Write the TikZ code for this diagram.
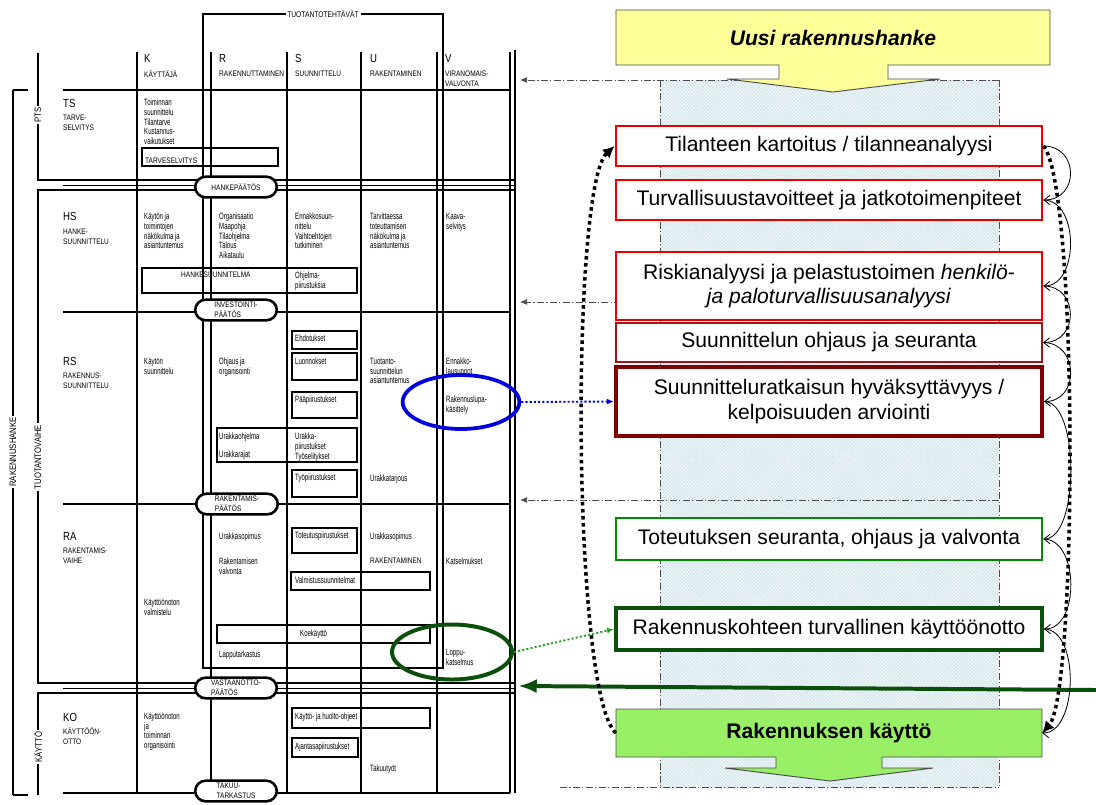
\documentclass[tikz,border=0pt]{standalone}
\usepackage{fontspec}
\setmainfont{Liberation Sans}
\newfontfamily\handfont[FakeStretch=0.66]{Liberation Sans}
\newfontfamily\capsfont[FakeStretch=0.82]{Liberation Sans}
\usetikzlibrary{arrows.meta,shapes.geometric,patterns}

\definecolor{ylw}{RGB}{255,255,153}
\definecolor{lgreen}{RGB}{153,240,102}
\definecolor{boxred}{RGB}{230,0,0}
\definecolor{brick}{RGB}{165,20,20}
\definecolor{maroon}{RGB}{128,0,0}
\definecolor{okgreen}{RGB}{0,140,0}
\definecolor{dkgreen}{RGB}{10,80,10}
\definecolor{dotgreen}{RGB}{40,160,40}
\definecolor{hatchbg}{RGB}{242,248,249}
\definecolor{hatchln}{RGB}{208,228,233}
\definecolor{lupablue}{RGB}{0,0,225}

\begin{document}
\begin{tikzpicture}[x=0.03cm, y=-0.03cm,
	txt/.style={font=\handfont\fontsize{7.8}{8.2}\selectfont, anchor=north west, inner sep=0pt, align=left},
	caps/.style={font=\capsfont\fontsize{6.8}{8.6}\selectfont, anchor=north west, inner sep=0pt, align=left},
	head/.style={font=\capsfont\fontsize{10}{10}\selectfont, anchor=north west, inner sep=0pt},
	rot/.style={font=\capsfont\fontsize{8}{9}\selectfont, rotate=90, fill=white, inner sep=1.5pt},
	grid/.style={line width=1pt},
	inbox/.style={line width=0.9pt},
	paatos/.style={draw, line width=2.2pt, fill=white, rounded corners=9pt, minimum width=2.45cm, minimum height=0.62cm, inner sep=1.5pt, align=left, font=\capsfont\fontsize{6.8}{8.6}\selectfont},
	rbox/.style={fill=white, line width=2.4pt, minimum width=12.78cm, inner sep=2pt, align=center, font=\fontsize{18}{21}\selectfont},
	guide/.style={gray!60!black, line width=0.6pt, dash pattern=on 6pt off 2pt on 1pt off 2pt},
	flow/.style={line width=0.7pt, -{Straight Barb[length=5pt,width=8pt]}},
	bigdots/.style={line width=3pt, dash pattern=on 3pt off 3pt, -{Latex[length=10pt,width=10pt]}}]

	\useasboundingbox (0,0) rectangle (1096,804);

	% --- left: process table
	\draw[line width=1.4pt] (203,14) rectangle (443,668);
	\node[font=\capsfont\fontsize{7}{8}\selectfont, fill=white, inner sep=1.5pt] (tuot) at (323,14) {TUOTANTOTEHTÄVÄT};

	\draw[grid] (13,90) -- (13,795);
	\draw[grid] (13,90) -- (28,90);
	\draw[grid] (13,795) -- (28,795);
	\draw[grid] (38,53) -- (38,180) -- (515,180);
	\draw[grid] (515,190) -- (38,190) -- (38,683) -- (515,683);
	\draw[grid] (515,693) -- (38,693) -- (38,795);
	\draw[line width=0.6pt] (63,185) -- (515,185);
	\draw[line width=0.6pt] (63,688) -- (515,688);
	\draw[grid] (63,90) -- (510,90);
	\draw[grid] (63,312) -- (510,312);
	\draw[grid] (63,504) -- (510,504);
	\draw[grid] (63,793) -- (510,793);
	\foreach \cx in {137,211,287,361,437,510}
		\draw[grid] (\cx,52) -- (\cx,793);
	\draw[grid] (515,50) -- (515,793);

	\node[rot] (hanke) at (13,452) {RAKENNUSHANKE};
	\node[rot] (tvaihe) at (38,457) {TUOTANTOVAIHE};
	\node[rot] (pts) at (38,115) {PTS};
	\node[rot] (kaytv) at (38,747) {KÄYTTÖ};

	% column heads
	\node[head] (hK) at (144,54) {K};
	\node[head] (hR) at (219,54) {R};
	\node[head] (hS) at (295,54) {S};
	\node[head] (hU) at (370,54) {U};
	\node[head] (hV) at (445,54) {V};
	\node[caps] (sK) at (144,71) {KÄYTTÄJÄ};
	\node[caps] (sR) at (219,71) {RAKENNUTTAMINEN};
	\node[caps] (sS) at (295,71) {SUUNNITTELU};
	\node[caps] (sU) at (370,71) {RAKENTAMINEN};
	\node[caps] (sV) at (445,71) {VIRANOMAIS-\\VALVONTA};

	% phases
	\node[head] (pTS) at (63,99) {TS};
	\node[caps] (nTS) at (63,115) {TARVE-\\SELVITYS};
	\node[head] (pHS) at (63,212) {HS};
	\node[caps] (nHS) at (63,229) {HANKE-\\SUUNNITTELU};
	\node[head] (pRS) at (63,357) {RS};
	\node[caps] (nRS) at (63,373) {RAKENNUS-\\SUUNNITTELU};
	\node[head] (pRA) at (63,532) {RA};
	\node[caps] (nRA) at (63,548) {RAKENTAMIS-\\VAIHE};
	\node[head] (pKO) at (63,713) {KO};
	\node[caps] (nKO) at (63,728) {KÄYTTÖÖN-\\OTTO};

	% boxes inside the table
	\draw[inbox] (142,148) rectangle (278,166);
	\draw[inbox] (142,268) rectangle (357,293);
	\draw[inbox] (292,331) rectangle (357,349);
	\draw[inbox] (292,353) rectangle (357,380);
	\draw[inbox] (292,392) rectangle (357,418);
	\draw[inbox] (217,428) rectangle (357,462);
	\draw[inbox] (292,470) rectangle (357,497);
	\draw[inbox] (292,528) rectangle (357,553);
	\draw[inbox] (291,572) rectangle (430,590);
	\draw[inbox] (217,625) rectangle (430,643);
	\draw[inbox] (292,708) rectangle (430,728);
	\draw[inbox] (292,738) rectangle (358,757);

	% K
	\node[txt] (kTS) at (144,99) {Toiminnan\\suunnittelu\\Tilantarve\\Kustannus-\\vaikutukset};
	\node[caps] (kTsv) at (145,158) {TARVESELVITYS};
	\node[txt] (kHS) at (144,213) {Käytön ja\\toimintojen\\näkökulma ja\\asiantuntemus};
	\node[caps] (kHsu) at (181,272) {HANKESUUNNITELMA};
	\node[txt] (kRS) at (144,358) {Käytön\\suunnittelu};
	\node[txt] (kRA) at (144,599) {Käyttöönoton\\valmistelu};
	\node[txt] (kKO) at (144,713) {Käyttöönoton\\ja\\toiminnan\\organisointi};
	% R
	\node[txt] (rHS) at (219,213) {Organisaatio\\Maapohja\\Tilaohjelma\\Talous\\Aikataulu};
	\node[txt] (rRS) at (219,358) {Ohjaus ja\\organisointi};
	\node[txt] (rUo) at (219,433) {Urakkaohjelma};
	\node[txt] (rUr) at (219,451) {Urakkarajat};
	\node[txt] (rSop) at (219,533) {Urakkasopimus};
	\node[txt] (rVal) at (219,558) {Rakentamisen\\valvonta};
	\node[txt] (rLop) at (219,651) {Lapputarkastus};
	% S
	\node[txt] (sHS) at (295,213) {Ennakkosuun-\\nittelu\\Vaihtoehtojen\\tutkiminen};
	\node[txt] (sOhj) at (295,272) {Ohjelma-\\piirustuksia};
	\node[txt] (sEhd) at (295,335) {Ehdotukset};
	\node[txt] (sLuo) at (295,358) {Luonnokset};
	\node[txt] (sPaa) at (295,396) {Pääpiirustukset};
	\node[txt] (sUra) at (295,433) {Urakka-\\piirustukset\\Työselitykset};
	\node[txt] (sTyo) at (295,474) {Työpiirustukset};
	\node[txt] (sTot) at (295,532) {Toteutuspiirustukset};
	\node[txt] (sVal) at (295,577) {Valmistussuunnitelmat};
	\node[txt] (sKoe) at (300,630) {Koekäyttö};
	\node[txt] (sKh) at (295,713) {Käyttö- ja huolto-ohjeet};
	\node[txt] (sAj) at (295,743) {Ajantasapiirustukset};
	% U
	\node[txt] (uHS) at (370,213) {Tarvittaessa\\toteuttamisen\\näkökulma ja\\asiantuntemus};
	\node[txt] (uRS) at (370,358) {Tuotanto-\\suunnittelun\\asiantuntemus};
	\node[txt] (uTar) at (370,475) {Urakkatarjous};
	\node[txt] (uSop) at (370,533) {Urakkasopimus};
	\node[caps] (uRak) at (370,558) {RAKENTAMINEN};
	\node[txt] (uTak) at (370,765) {Takuutyöt};
	% V
	\node[txt] (vHS) at (446,213) {Kaava-\\selvitys};
	\node[txt] (vRS) at (446,358) {Ennakko-\\lausunnot};
	\node[txt] (vLupa) at (446,396) {Rakennuslupa-\\käsittely};
	\node[txt] (vKat) at (446,558) {Katselmukset};
	\node[txt] (vLop) at (446,649) {Loppu-\\katselmus};

	% decisions
	\node[paatos] (dHanke) at (236,187) {HANKEPÄÄTÖS};
	\node[paatos] (dInv) at (236,310) {INVESTOINTI-\\PÄÄTÖS};
	\node[paatos] (dRak) at (237,504) {RAKENTAMIS-\\PÄÄTÖS};
	\node[paatos] (dVas) at (236,688) {VASTAANOTTO-\\PÄÄTÖS};
	\node[paatos] (dTak) at (236,791) {TAKUU-\\TARKASTUS};

	\node[ellipse, draw=lupablue, line width=3.2pt, minimum width=3.5cm, minimum height=1.62cm] (lupa) at (461,402) {};
	\node[ellipse, draw=dkgreen, line width=3.4pt, minimum width=3.6cm, minimum height=1.65cm] (loppu) at (452,652) {};

	% --- right: safety process
	\fill[hatchbg] (660,80) rectangle (999,787);
	\fill[pattern=crosshatch, pattern color=hatchln] (660,80) rectangle (999,787);
	\coordinate (stTR) at (999,80);
	\coordinate (stInv) at (660,302);
	\coordinate (stRak) at (999,500);
	\coordinate (tbTop) at (520,80);
	\coordinate (tbInv) at (520,302);
	\coordinate (tbRak) at (520,500);
	\draw[guide] (660,80) -- (660,787);
	\draw[guide] (999,80) -- (999,787);
	\draw[guide] (560,787) -- (999,787);
	\draw[guide, -{Latex[length=6pt,width=5pt]}] (stTR) -- (tbTop);
	\draw[guide, -{Latex[length=6pt,width=5pt]}] (stInv) -- (tbInv);
	\draw[guide, -{Latex[length=6pt,width=5pt]}] (stRak) -- (tbRak);

	\draw[gray!60!black, line width=0.8pt, fill=ylw] (616,10) -- (1050,10) -- (1050,65) -- (888,65) -- (888,79) -- (940,79) -- (833,92) -- (727,79) -- (779,79) -- (779,65) -- (616,65) -- cycle;
	\node[font=\bfseries\itshape\fontsize{18}{21}\selectfont] (uusi) at (833,38) {Uusi rakennushanke};
	\draw[gray!60!black, line width=0.8pt, fill=lgreen] (616,709) -- (1042,709) -- (1042,757) -- (882,757) -- (882,768) -- (933,768) -- (830,781) -- (725,768) -- (776,768) -- (776,757) -- (616,757) -- cycle;
	\node[font=\bfseries\fontsize{18}{21}\selectfont, minimum width=12.78cm, minimum height=1.44cm, inner sep=0pt] (kaytto) at (829,733) {Rakennuksen käyttö};

	\node[rbox, draw=boxred, minimum height=1.2cm] (tilanne) at (829,146) {Tilanteen kartoitus / tilanneanalyysi};
	\node[rbox, draw=boxred, minimum height=1.2cm] (tavoite) at (829,200) {Turvallisuustavoitteet ja jatkotoimenpiteet};
	\node[rbox, draw=boxred, minimum height=2.04cm] (riski) at (829,286) {Riskianalyysi ja pelastustoimen \textit{henkilö-}\\\textit{ja paloturvallisuusanalyysi}};
	\node[rbox, draw=brick, line width=1.8pt, minimum height=1.17cm] (ohjaus) at (829,342.5) {Suunnittelun ohjaus ja seuranta};
	\node[rbox, draw=maroon, line width=3.4pt, minimum height=2.07cm] (hyvaks) at (829,401.5) {Suunnitteluratkaisun hyväksyttävyys /\\kelpoisuuden arviointi};
	\node[rbox, draw=okgreen, minimum height=1.26cm] (toteutus) at (829,539) {Toteutuksen seuranta, ohjaus ja valvonta};
	\node[rbox, draw=dkgreen, line width=3.4pt, minimum height=1.26cm] (kayttoon) at (829,629) {Rakennuskohteen turvallinen käyttöönotto};

	% connectors
	\coordinate (vastR) at (1096,690);
	\coordinate (vastL) at (518,686);
	\draw[dkgreen, line width=3.4pt, -{Latex[length=16pt,width=12pt]}] (vastR) -- (vastL);

	\foreach \a/\b in {tilanne/tavoite, tavoite/riski, riski/ohjaus, ohjaus/hyvaks, hyvaks/toteutus, toteutus/kayttoon, kayttoon/kaytto}
		\draw[flow] (\a.east) .. controls +(36,0) and +(36,0) .. (\b.east);

	\draw[bigdots] (tilanne.east) .. controls +(35,40) and +(35,-40) .. (kaytto.east);
	\draw[bigdots] (kaytto.west) .. controls +(-44,-40) and +(-44,40) .. (tilanne.west);

	\draw[lupablue, line width=1.6pt, dash pattern=on 1.8pt off 1.8pt, -{Latex[length=6pt,width=5pt]}] (lupa.east) -- (hyvaks.west);
	\draw[dotgreen, line width=1.6pt, dash pattern=on 1.8pt off 1.8pt, -{Latex[length=6pt,width=5pt]}] (loppu.east) -- (kayttoon.west);
\end{tikzpicture}
\end{document}
